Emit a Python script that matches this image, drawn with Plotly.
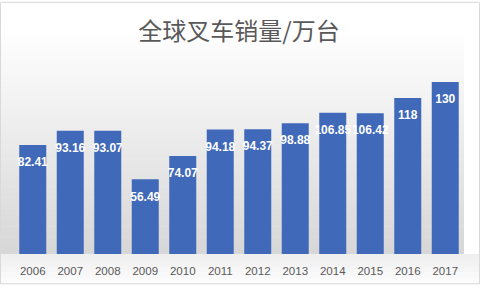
import plotly.graph_objects as go

years = ["2006", "2007", "2008", "2009", "2010", "2011", "2012", "2013", "2014", "2015", "2016", "2017"]
sales = [82.41, 93.16, 93.07, 56.49, 74.07, 94.18, 94.37, 98.88, 106.85, 106.42, 118, 130]
labels = ["82.41", "93.16", "93.07", "56.49", "74.07", "94.18", "94.37", "98.88", "106.85", "106.42", "118", "130"]

W, H = 480, 289

fig = go.Figure()
fig.add_trace(go.Bar(
    x=years, y=sales,
    marker=dict(color="#4069b9", line=dict(width=0)),
    hoverinfo="skip",
))
fig.add_trace(go.Scatter(
    x=years, y=sales, text=labels, mode="markers+text",
    textposition="bottom center",
    marker=dict(size=18, color="rgba(0,0,0,0)"),
    textfont=dict(family="Liberation Sans", size=12, color="white", weight="bold"),
    cliponaxis=False,
))

shapes = []
def hexmix(c1, c2, t):
    a = [int(c1[i:i+2], 16) for i in (1, 3, 5)]
    b = [int(c2[i:i+2], 16) for i in (1, 3, 5)]
    return "#%02x%02x%02x" % tuple(round(a[k] + (b[k] - a[k]) * t) for k in range(3))

top, mid = 30, 258
steps = 40
for i in range(steps):
    y0 = top + (mid - top) * i / steps
    y1 = top + (mid - top) * (i + 1) / steps + 0.5
    c = hexmix("#ffffff", "#d6d6d6", (i + 0.5) / steps)
    shapes.append(dict(type="rect", xref="paper", yref="paper", layer="below",
                       x0=-14 / 450, x1=1.0, y0=(258 - y0) / 176,
                       y1=(258 - y1) / 176, fillcolor=c, line=dict(width=0)))
for i in range(10):
    y0 = 258 + 31 * i / 10
    y1 = 258 + 31 * (i + 1) / 10 + 0.5
    c = hexmix("#eeeeee", "#fdfdfd", (i + 0.5) / 10)
    shapes.append(dict(type="rect", xref="paper", yref="paper", layer="below",
                       x0=-14 / 450, x1=(480 - 14) / 450, y0=(258 - y0) / 176,
                       y1=(258 - y1) / 176, fillcolor=c, line=dict(width=0)))
shapes.append(dict(type="rect", xref="paper", yref="paper", layer="above",
                   x0=-13.5 / 450, x1=(480 - 14.5) / 450, y0=(258 - 288.5) / 176, y1=(258 - 0.5) / 176,
                   fillcolor="rgba(0,0,0,0)", line=dict(width=1, color="#d9d9d9")))

fig.update_layout(
    width=W, height=H,
    margin=dict(l=14, r=16, t=82, b=31),
    paper_bgcolor="white", plot_bgcolor="rgba(0,0,0,0)",
    bargap=0.28,
    showlegend=False,
    title=dict(text="全球叉车销量/万台", x=0.5, xref="paper", xanchor="center",
               y=1 - 32 / H, yref="container", yanchor="middle",
               font=dict(family="Noto Sans CJK SC", size=24, color="#595959")),
    xaxis=dict(type="category", range=[-0.5, 11.5], showgrid=False, zeroline=False,
               showline=False, ticks="", ticklabelstandoff=8,
               tickfont=dict(family="Liberation Sans", size=11.5, color="#595959")),
    yaxis=dict(range=[0, 130], visible=False),
    shapes=shapes,
)

fig.write_html("out.html")
